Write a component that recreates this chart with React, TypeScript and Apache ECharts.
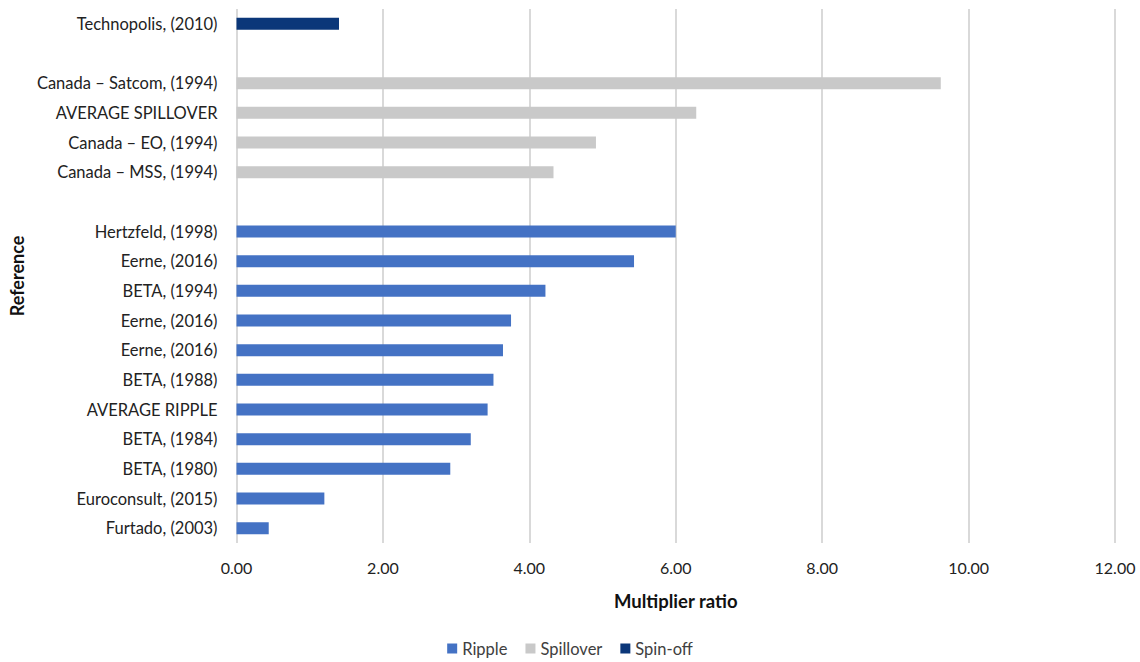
import React, { useEffect, useRef } from "react";
import * as echarts from "echarts";

// Categories, bottom to top
const categories = [
  "Furtado, (2003)",
  "Euroconsult, (2015)",
  "BETA, (1980)",
  "BETA, (1984)",
  "AVERAGE RIPPLE",
  "BETA, (1988)",
  "Eerne, (2016)",
  "Eerne, (2016)",
  "BETA, (1994)",
  "Eerne, (2016)",
  "Hertzfeld, (1998)",
  "",
  "Canada – MSS, (1994)",
  "Canada – EO, (1994)",
  "AVERAGE SPILLOVER",
  "Canada – Satcom, (1994)",
  " ",
  "Technopolis, (2010)",
];

const ripple = [0.44, 1.2, 2.92, 3.2, 3.43, 3.51, 3.64, 3.75, 4.22, 5.43, 6.0, null, null, null, null, null, null, null];
const spillover = [null, null, null, null, null, null, null, null, null, null, null, null, 4.33, 4.91, 6.28, 9.62, null, null];
const spinoff = [null, null, null, null, null, null, null, null, null, null, null, null, null, null, null, null, null, 1.4];

const seriesNames = ["Ripple", "Spillover", "Spin-off"];
const colors = ["#4472C4", "#C9C9C9", "#0B3779"];

const FONT = "Lato, 'Open Sans', sans-serif";

export default function App() {
  const ref = useRef<HTMLDivElement>(null);
  useEffect(() => {
    if (!ref.current) return;
    const chart = echarts.init(ref.current, undefined, { renderer: "svg" });
    const mk = (name: string, data: (number | null)[], color: string) => ({
      name,
      type: "bar",
      stack: "all",
      data,
      barWidth: 12,
      itemStyle: { color },
    });
    chart.setOption({
      animation: false,
      textStyle: { fontFamily: FONT },
      grid: { left: 229, right: 25, top: 9, bottom: 119, containLabel: false },
      legend: {
        bottom: 0,
        left: "center",
        icon: "rect",
        itemWidth: 10,
        itemHeight: 10,
        itemGap: 18,
        textStyle: { fontFamily: FONT, fontSize: 16.5, color: "#404040" },
        data: seriesNames,
      },
      xAxis: {
        type: "value",
        min: 0,
        max: 12,
        interval: 2,
        name: "Multiplier ratio",
        nameLocation: "middle",
        nameGap: 48,
        nameTextStyle: { fontFamily: FONT, fontSize: 18.5, fontWeight: "bold", color: "#111" },
        axisLine: { show: false },
        axisTick: { show: false },
        axisLabel: {
          fontFamily: FONT,
          fontSize: 16,
          color: "#222",
          margin: 16,
          formatter: (v: number) => v.toFixed(2),
        },
        splitLine: { show: true, lineStyle: { color: "#D9D9D9", width: 2 } },
      },
      yAxis: {
        type: "category",
        data: categories,
        name: "Reference",
        nameLocation: "middle",
        nameGap: 210,
        nameTextStyle: { fontFamily: FONT, fontSize: 18, fontWeight: "bold", color: "#111" },
        axisLine: { show: false },
        axisTick: { show: false },
        axisLabel: { fontFamily: FONT, fontSize: 16.5, color: "#222", margin: 19, interval: 0 },
        splitLine: { show: false },
      },
      series: [
        mk(seriesNames[0], ripple, colors[0]),
        mk(seriesNames[1], spillover, colors[1]),
        mk(seriesNames[2], spinoff, colors[2]),
      ],
    });
    return () => chart.dispose();
  }, []);
  return <div ref={ref} style={{ width: 1140, height: 662, position: "absolute", left: 0, top: 0 }} />;
}
